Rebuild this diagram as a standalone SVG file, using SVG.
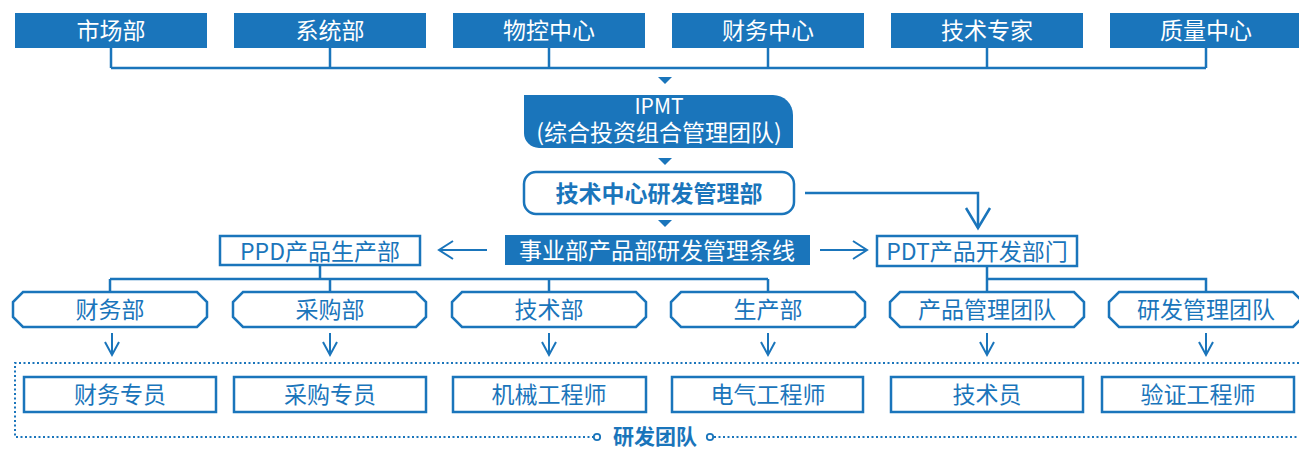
<svg xmlns="http://www.w3.org/2000/svg" width="1299" height="449" viewBox="0 0 1299 449">
<defs>
<style>
.fill{fill:#1a75bb;}
.txtw{fill:#ffffff;font-family:"Noto Sans CJK SC","Noto Sans",sans-serif;font-size:23px;text-anchor:middle;dominant-baseline:central;}
.txtb{fill:#1a75bb;font-family:"Noto Sans CJK SC","Noto Sans",sans-serif;font-size:23px;text-anchor:middle;dominant-baseline:central;}
.bold{font-weight:bold;}
.box{fill:#ffffff;stroke:#1a75bb;stroke-width:2.5;}
.ln{fill:none;stroke:#1a75bb;stroke-width:2.5;}
.thin{fill:none;stroke:#1a75bb;stroke-width:2;}
.dot{fill:none;stroke:#1a75bb;stroke-width:2;stroke-dasharray:2 2.5;}
</style>
</defs>
<rect width="1299" height="449" fill="#ffffff"/>

<g id="connectors">
<path class="ln" d="M111,47V68M330,47V68M549,47V68M768,47V68M987,47V68M1206,47V68M111,68H1206"/>
<polygon class="fill" points="658,77 672,77 665,84"/>
<polygon class="fill" points="658,158 672,158 665,165"/>
<polygon class="fill" points="658,220 672,220 665,227"/>
<path class="ln" d="M805,193H978V228"/>
<path class="ln" d="M966,208L978,228L990,208"/>
<path class="thin" d="M487,250H439M453,241L439,250L453,259"/>
<path class="thin" d="M820,250H867M853,241L867,250L853,259"/>
<path class="ln" d="M320,265V279M110,279H768M110,279V292M330,279V292M549,279V292M768,279V292"/>
<path class="ln" d="M987,266V292M987,279H1206V292"/>
<path class="thin" d="M112,333V355M105,342L112,355L119,342"/>
<path class="thin" d="M330,333V355M323,342L330,355L337,342"/>
<path class="thin" d="M549,333V355M542,342L549,355L556,342"/>
<path class="thin" d="M768,333V355M761,342L768,355L775,342"/>
<path class="thin" d="M987,333V355M980,342L987,355L994,342"/>
<path class="thin" d="M1206,333V355M1199,342L1206,355L1213,342"/>
</g>

<g id="team-frame">
<path class="dot" d="M1299,363H15V437H593"/>
<path class="dot" d="M714,437H1299"/>
<circle cx="597" cy="437" r="3.2" fill="#ffffff" stroke="#1a75bb" stroke-width="1.8"/>
<circle cx="710" cy="437" r="3.2" fill="#ffffff" stroke="#1a75bb" stroke-width="1.8"/>
<text class="txtb bold" x="655" y="435" style="font-size:21px">研发团队</text>
</g>

<g id="top-1"><rect class="fill" x="15" y="13" width="192" height="35"/><text class="txtw" x="111" y="29">市场部</text></g>
<g id="top-2"><rect class="fill" x="234" y="13" width="192" height="35"/><text class="txtw" x="330" y="29">系统部</text></g>
<g id="top-3"><rect class="fill" x="453" y="13" width="192" height="35"/><text class="txtw" x="549" y="29">物控中心</text></g>
<g id="top-4"><rect class="fill" x="672" y="13" width="192" height="35"/><text class="txtw" x="768" y="29">财务中心</text></g>
<g id="top-5"><rect class="fill" x="891" y="13" width="192" height="35"/><text class="txtw" x="987" y="29">技术专家</text></g>
<g id="top-6"><rect class="fill" x="1110" y="13" width="192" height="35"/><text class="txtw" x="1206" y="29">质量中心</text></g>

<g id="ipmt">
<path class="fill" d="M524,95H773A20,20 0 0 1 793,115V148H539A15,15 0 0 1 524,133Z"/>
<text class="txtw"><tspan x="659" y="105" style="font-size:21px">IPMT</tspan><tspan x="659" y="131" style="font-size:23px">(综合投资组合管理团队)</tspan></text>
</g>

<g id="tech-center">
<rect class="box" x="524" y="172" width="270" height="42" rx="12"/>
<text class="txtb bold" x="659" y="192">技术中心研发管理部</text>
</g>

<g id="bu-line">
<rect class="fill" x="505" y="235" width="305" height="30"/>
<text class="txtw" x="657" y="249">事业部产品部研发管理条线</text>
</g>

<g id="ppd">
<rect class="box" x="220" y="236" width="200" height="29"/>
<text class="txtb" x="320" y="250">PPD产品生产部</text>
</g>

<g id="pdt">
<rect class="box" x="877" y="236" width="200" height="30"/>
<text class="txtb" x="977" y="250">PDT产品开发部门</text>
</g>

<g id="dept-1"><polygon class="box" points="23,292 197,292 207,302 207,317 197,327 23,327 13,317 13,302"/><text class="txtb" x="110" y="308">财务部</text></g>
<g id="dept-2"><polygon class="box" points="243,292 416,292 426,302 426,317 416,327 243,327 233,317 233,302"/><text class="txtb" x="330" y="308">采购部</text></g>
<g id="dept-3"><polygon class="box" points="462,292 636,292 646,302 646,317 636,327 462,327 452,317 452,302"/><text class="txtb" x="549" y="308">技术部</text></g>
<g id="dept-4"><polygon class="box" points="681,292 855,292 865,302 865,317 855,327 681,327 671,317 671,302"/><text class="txtb" x="768" y="308">生产部</text></g>
<g id="dept-5"><polygon class="box" points="900,292 1074,292 1084,302 1084,317 1074,327 900,327 890,317 890,302"/><text class="txtb" x="987" y="308">产品管理团队</text></g>
<g id="dept-6"><polygon class="box" points="1119,292 1293,292 1303,302 1303,317 1293,327 1119,327 1109,317 1109,302"/><text class="txtb" x="1206" y="308">研发管理团队</text></g>

<g id="role-1"><rect class="box" x="24" y="377" width="192" height="35"/><text class="txtb" x="120" y="393">财务专员</text></g>
<g id="role-2"><rect class="box" x="234" y="377" width="192" height="35"/><text class="txtb" x="330" y="393">采购专员</text></g>
<g id="role-3"><rect class="box" x="453" y="377" width="193" height="35"/><text class="txtb" x="549" y="393">机械工程师</text></g>
<g id="role-4"><rect class="box" x="672" y="377" width="191" height="35"/><text class="txtb" x="768" y="393">电气工程师</text></g>
<g id="role-5"><rect class="box" x="891" y="377" width="192" height="35"/><text class="txtb" x="987" y="393">技术员</text></g>
<g id="role-6"><rect class="box" x="1102" y="377" width="192" height="35"/><text class="txtb" x="1198" y="393">验证工程师</text></g>
</svg>
